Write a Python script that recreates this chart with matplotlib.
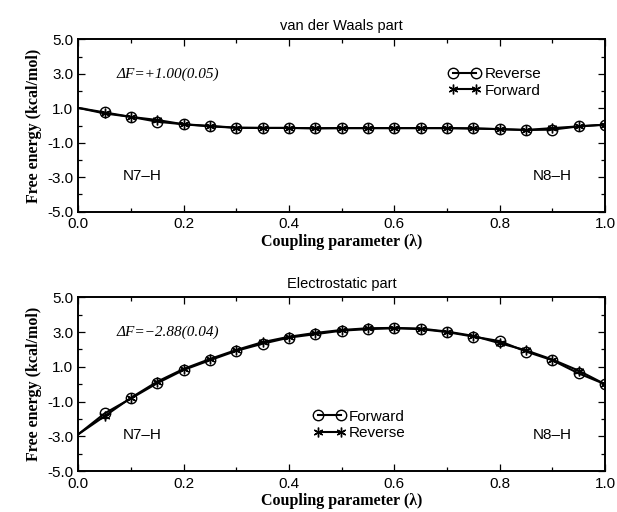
import matplotlib
matplotlib.use("Agg")
import matplotlib.pyplot as plt
from matplotlib.ticker import MultipleLocator, FormatStrFormatter

plt.rcParams['font.family'] = ['Liberation Sans', 'DejaVu Sans']
plt.rcParams['axes.unicode_minus'] = False

# coupling parameter values
lam = [0.00, 0.05, 0.10, 0.15, 0.20, 0.25, 0.30, 0.35, 0.40, 0.45, 0.50,
       0.55, 0.60, 0.65, 0.70, 0.75, 0.80, 0.85, 0.90, 0.95, 1.00]

# van der Waals part
vdw_reverse = [1.02, 0.76, 0.50, 0.22, 0.07, -0.05, -0.13, -0.14, -0.14, -0.16, -0.15,
               -0.15, -0.15, -0.15, -0.15, -0.17, -0.21, -0.26, -0.24, -0.05, 0.05]
vdw_forward = [1.02, 0.70, 0.50, 0.32, 0.07, -0.02, -0.13, -0.14, -0.14, -0.16, -0.15,
               -0.15, -0.15, -0.15, -0.15, -0.17, -0.21, -0.26, -0.15, -0.05, 0.05]

# electrostatic part
ele_forward = [-2.88, -1.68, -0.82, 0.06, 0.82, 1.38, 1.92, 2.33, 2.68, 2.88, 3.08,
               3.17, 3.22, 3.17, 3.00, 2.74, 2.48, 1.88, 1.38, 0.62, 0.00]
ele_reverse = [-2.88, -1.84, -0.78, 0.15, 0.88, 1.45, 1.97, 2.42, 2.73, 2.95, 3.12,
               3.22, 3.24, 3.20, 3.03, 2.78, 2.36, 1.95, 1.42, 0.78, 0.00]

panels = [
    ("van der Waals part", "\u0394F=+1.00(0.05)",
     [("Reverse", vdw_reverse, "o"), ("Forward", vdw_forward, (6, 2, 0))],
     (0.703, 0.838)),
    ("Electrostatic part", "\u0394F=\u22122.88(0.04)",
     [("Forward", ele_forward, "o"), ("Reverse", ele_reverse, (6, 2, 0))],
     (0.446, 0.353)),
]

fig = plt.figure(figsize=(6.17, 5.12), dpi=100)
axes_pos = [[0.127, 0.5865, 0.8535, 0.3367], [0.127, 0.0800, 0.8535, 0.3393]]

serif = ['Liberation Serif', 'DejaVu Serif']

for pos, (title, dF, series, leg_xy) in zip(axes_pos, panels):
    ax = fig.add_axes(pos)
    for label, vals, mk in series:
        if mk == "o":
            ax.plot(lam, vals, color='black', lw=1.5, marker=mk, ms=7.5,
                    mfc='none', mec='black', mew=1.0, markevery=list(range(1, len(lam))),
                    label=label)
        else:
            ax.plot(lam, vals, color='black', lw=1.5, marker=mk, ms=7,
                    mec='black', mew=1.0, markevery=list(range(1, len(lam))),
                    label=label)

    ax.set_xlim(0.0, 1.0)
    ax.set_ylim(-5.0, 5.0)
    ax.xaxis.set_major_locator(MultipleLocator(0.2))
    ax.xaxis.set_minor_locator(MultipleLocator(0.1))
    ax.yaxis.set_minor_locator(MultipleLocator(1.0))
    ax.set_yticks([-5.0, -3.0, -1.0, 1.0, 3.0, 5.0])
    ax.xaxis.set_major_formatter(FormatStrFormatter('%.1f'))
    ax.yaxis.set_major_formatter(FormatStrFormatter('%.1f'))
    ax.tick_params(which='both', direction='in', top=True, right=True,
                   labelsize=11, width=0.9)
    ax.tick_params(which='major', length=5)
    ax.tick_params(which='minor', length=3)
    ax.tick_params(axis='x', pad=4)
    for sp in ax.spines.values():
        sp.set_linewidth(1.4)

    ax.set_title(title, fontsize=10.5, pad=7)
    ax.set_xlabel("Coupling parameter (\u03bb)", fontsize=11.5, fontweight='bold',
                  family=serif, labelpad=2)
    ax.set_ylabel("Free energy (kcal/mol)", fontsize=11.5, fontweight='bold',
                  family=serif, labelpad=4)

    ax.text(0.073, 3.0, dF, fontsize=11, style='italic', family=serif, va='center')
    ax.text(0.085, -2.9, "N7\u2013H", fontsize=11, va='center')
    ax.text(0.862, -2.9, "N8\u2013H", fontsize=11, va='center')

    ax.legend(loc='upper left', bbox_to_anchor=leg_xy, frameon=False, numpoints=2,
              handlelength=2.1, handletextpad=0.25, labelspacing=0.15,
              borderpad=0, borderaxespad=0, fontsize=11)

fig.savefig("out.png", dpi=100)
